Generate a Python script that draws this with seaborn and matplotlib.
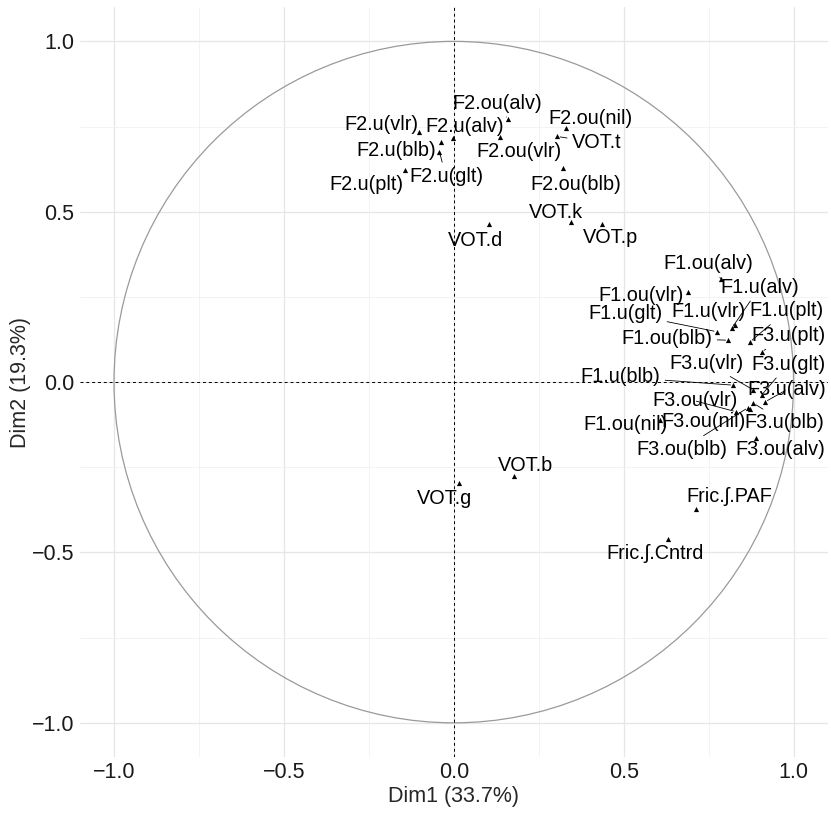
import numpy as np
import pandas as pd
import seaborn as sns
import matplotlib.pyplot as plt
from matplotlib.patches import Circle

sns.set_theme(style="white")
plt.rcParams['font.family'] = ['Liberation Sans', 'DejaVu Sans']

# PCA variable coordinates
variables = ["F2.ou(alv)", "F2.u(vlr)", "F2.u(alv)", "F2.u(blb)", "F2.u(glt)", "F2.u(plt)",
             "F2.ou(vlr)", "F2.ou(nil)", "VOT.t", "F2.ou(blb)", "VOT.k", "VOT.p", "VOT.d",
             "F1.ou(alv)", "F1.u(alv)", "F1.ou(vlr)", "F1.u(glt)", "F1.u(vlr)", "F1.u(plt)",
             "F1.ou(blb)", "F3.u(plt)", "F3.u(vlr)", "F3.u(glt)", "F1.u(blb)", "F3.u(alv)",
             "F3.ou(vlr)", "F1.ou(nil)", "F3.ou(nil)", "F3.u(blb)", "F3.ou(blb)", "F3.ou(alv)",
             "VOT.b", "VOT.g", "Fric.ʃ.PAF", "Fric.ʃ.Cntrd"]
dim1 = [0.160, -0.101, -0.003, -0.039, -0.042, -0.143,
        0.137, 0.329, 0.305, 0.321, 0.344, 0.437, 0.105,
        0.786, 0.818, 0.689, 0.774, 0.827, 0.872,
        0.808, 0.906, 0.882, 0.906, 0.823, 0.916,
        0.831, 0.606, 0.872, 0.882, 0.866, 0.889,
        0.176, 0.015, 0.713, 0.632]
dim2 = [0.771, 0.734, 0.715, 0.705, 0.675, 0.624,
        0.719, 0.746, 0.721, 0.628, 0.470, 0.465, 0.463,
        0.304, 0.158, 0.265, 0.148, 0.167, 0.118,
        0.123, 0.089, -0.023, -0.038, -0.009, -0.058,
        -0.087, -0.111, -0.078, -0.062, -0.075, -0.163,
        -0.276, -0.297, -0.373, -0.460]
eig_pct = [33.7, 19.3]

# where the repelled labels sit (layout only)
label_pos = {
    "F2.ou(alv)": (0.129, 0.819), "F2.u(vlr)": (-0.213, 0.755), "F2.u(alv)": (0.031, 0.749),
    "F2.u(blb)": (-0.169, 0.680), "F2.u(glt)": (-0.023, 0.604), "F2.u(plt)": (-0.257, 0.581),
    "F2.ou(vlr)": (0.193, 0.678), "F2.ou(nil)": (0.403, 0.773), "VOT.t": (0.420, 0.702),
    "F2.ou(blb)": (0.359, 0.581), "VOT.k": (0.300, 0.499), "VOT.p": (0.461, 0.423),
    "VOT.d": (0.063, 0.416), "F1.ou(alv)": (0.750, 0.348), "F1.u(alv)": (0.901, 0.279),
    "F1.ou(vlr)": (0.550, 0.254), "F1.u(glt)": (0.505, 0.202), "F1.u(vlr)": (0.750, 0.206),
    "F1.u(plt)": (0.979, 0.209), "F1.ou(blb)": (0.628, 0.128), "F3.u(plt)": (0.984, 0.136),
    "F3.u(vlr)": (0.745, 0.056), "F3.u(glt)": (0.984, 0.053), "F1.u(blb)": (0.491, 0.015),
    "F3.u(alv)": (0.979, -0.023), "F3.ou(vlr)": (0.710, -0.055), "F1.ou(nil)": (0.505, -0.123),
    "F3.ou(nil)": (0.735, -0.116), "F3.u(blb)": (0.974, -0.119), "F3.ou(blb)": (0.672, -0.197),
    "F3.ou(alv)": (0.960, -0.199), "VOT.b": (0.212, -0.246), "VOT.g": (-0.027, -0.341),
    "Fric.ʃ.PAF": (0.812, -0.337), "Fric.ʃ.Cntrd": (0.593, -0.502),
}
# labels that ggrepel joined to their point with a segment
with_segment = {"F2.ou(alv)", "F2.u(glt)", "VOT.t", "F1.ou(alv)", "F1.u(alv)", "F1.u(glt)",
                "F1.u(vlr)", "F1.ou(blb)", "F1.u(plt)", "F3.u(plt)", "F3.u(vlr)", "F3.u(glt)",
                "F1.u(blb)", "F3.u(alv)", "F3.ou(vlr)", "F3.ou(nil)", "F3.u(blb)", "F3.ou(blb)"}

df = pd.DataFrame({"var": variables, "Dim1": dim1, "Dim2": dim2})

fig = plt.figure(figsize=(8.31, 8.13), dpi=100)
ax = fig.add_axes([0.0963, 0.069, 0.8995, 0.922])

ax.set_xticks([-1.0, -0.5, 0.0, 0.5, 1.0])
ax.set_yticks([-1.0, -0.5, 0.0, 0.5, 1.0])
ax.set_xticks([-0.75, -0.25, 0.25, 0.75], minor=True)
ax.set_yticks([-0.75, -0.25, 0.25, 0.75], minor=True)
ax.grid(which="major", color="#e6e6e6", lw=0.9)
ax.grid(which="minor", color="#f1f1f1", lw=0.6)
ax.set_axisbelow(True)
for s in ax.spines.values():
    s.set_visible(False)

ax.add_patch(Circle((0, 0), 1, fill=False, color="#9a9a9a", lw=0.9))
ax.axhline(0, color="black", ls=(0, (3, 3)), lw=0.7)
ax.axvline(0, color="black", ls=(0, (3, 3)), lw=0.7)

sns.scatterplot(data=df, x="Dim1", y="Dim2", marker="^", color="black",
                s=14, linewidth=0, ax=ax, zorder=3)

for v, x, y in zip(variables, dim1, dim2):
    lx, ly = label_pos[v]
    props = None
    if v in with_segment:
        props = dict(arrowstyle="-", color="black", lw=0.6, shrinkA=1, shrinkB=2)
    ax.annotate(v, (x, y), xytext=(lx, ly), ha="center", va="center",
                fontsize=14.3, color="black", arrowprops=props, zorder=4)

ax.set_xlim(-1.1, 1.1)
ax.set_ylim(-1.1, 1.1)
ax.tick_params(axis="both", labelsize=15.5, colors="black", length=2, width=0.5,
               pad=2, labelcolor="#1a1a1a")
ax.tick_params(which="minor", length=0)
ax.set_xlabel(f"Dim1 ({eig_pct[0]}%)", fontsize=15.5, labelpad=2)
ax.set_ylabel(f"Dim2 ({eig_pct[1]}%)", fontsize=15.5, labelpad=1)

fig.savefig("out.png", dpi=100)
